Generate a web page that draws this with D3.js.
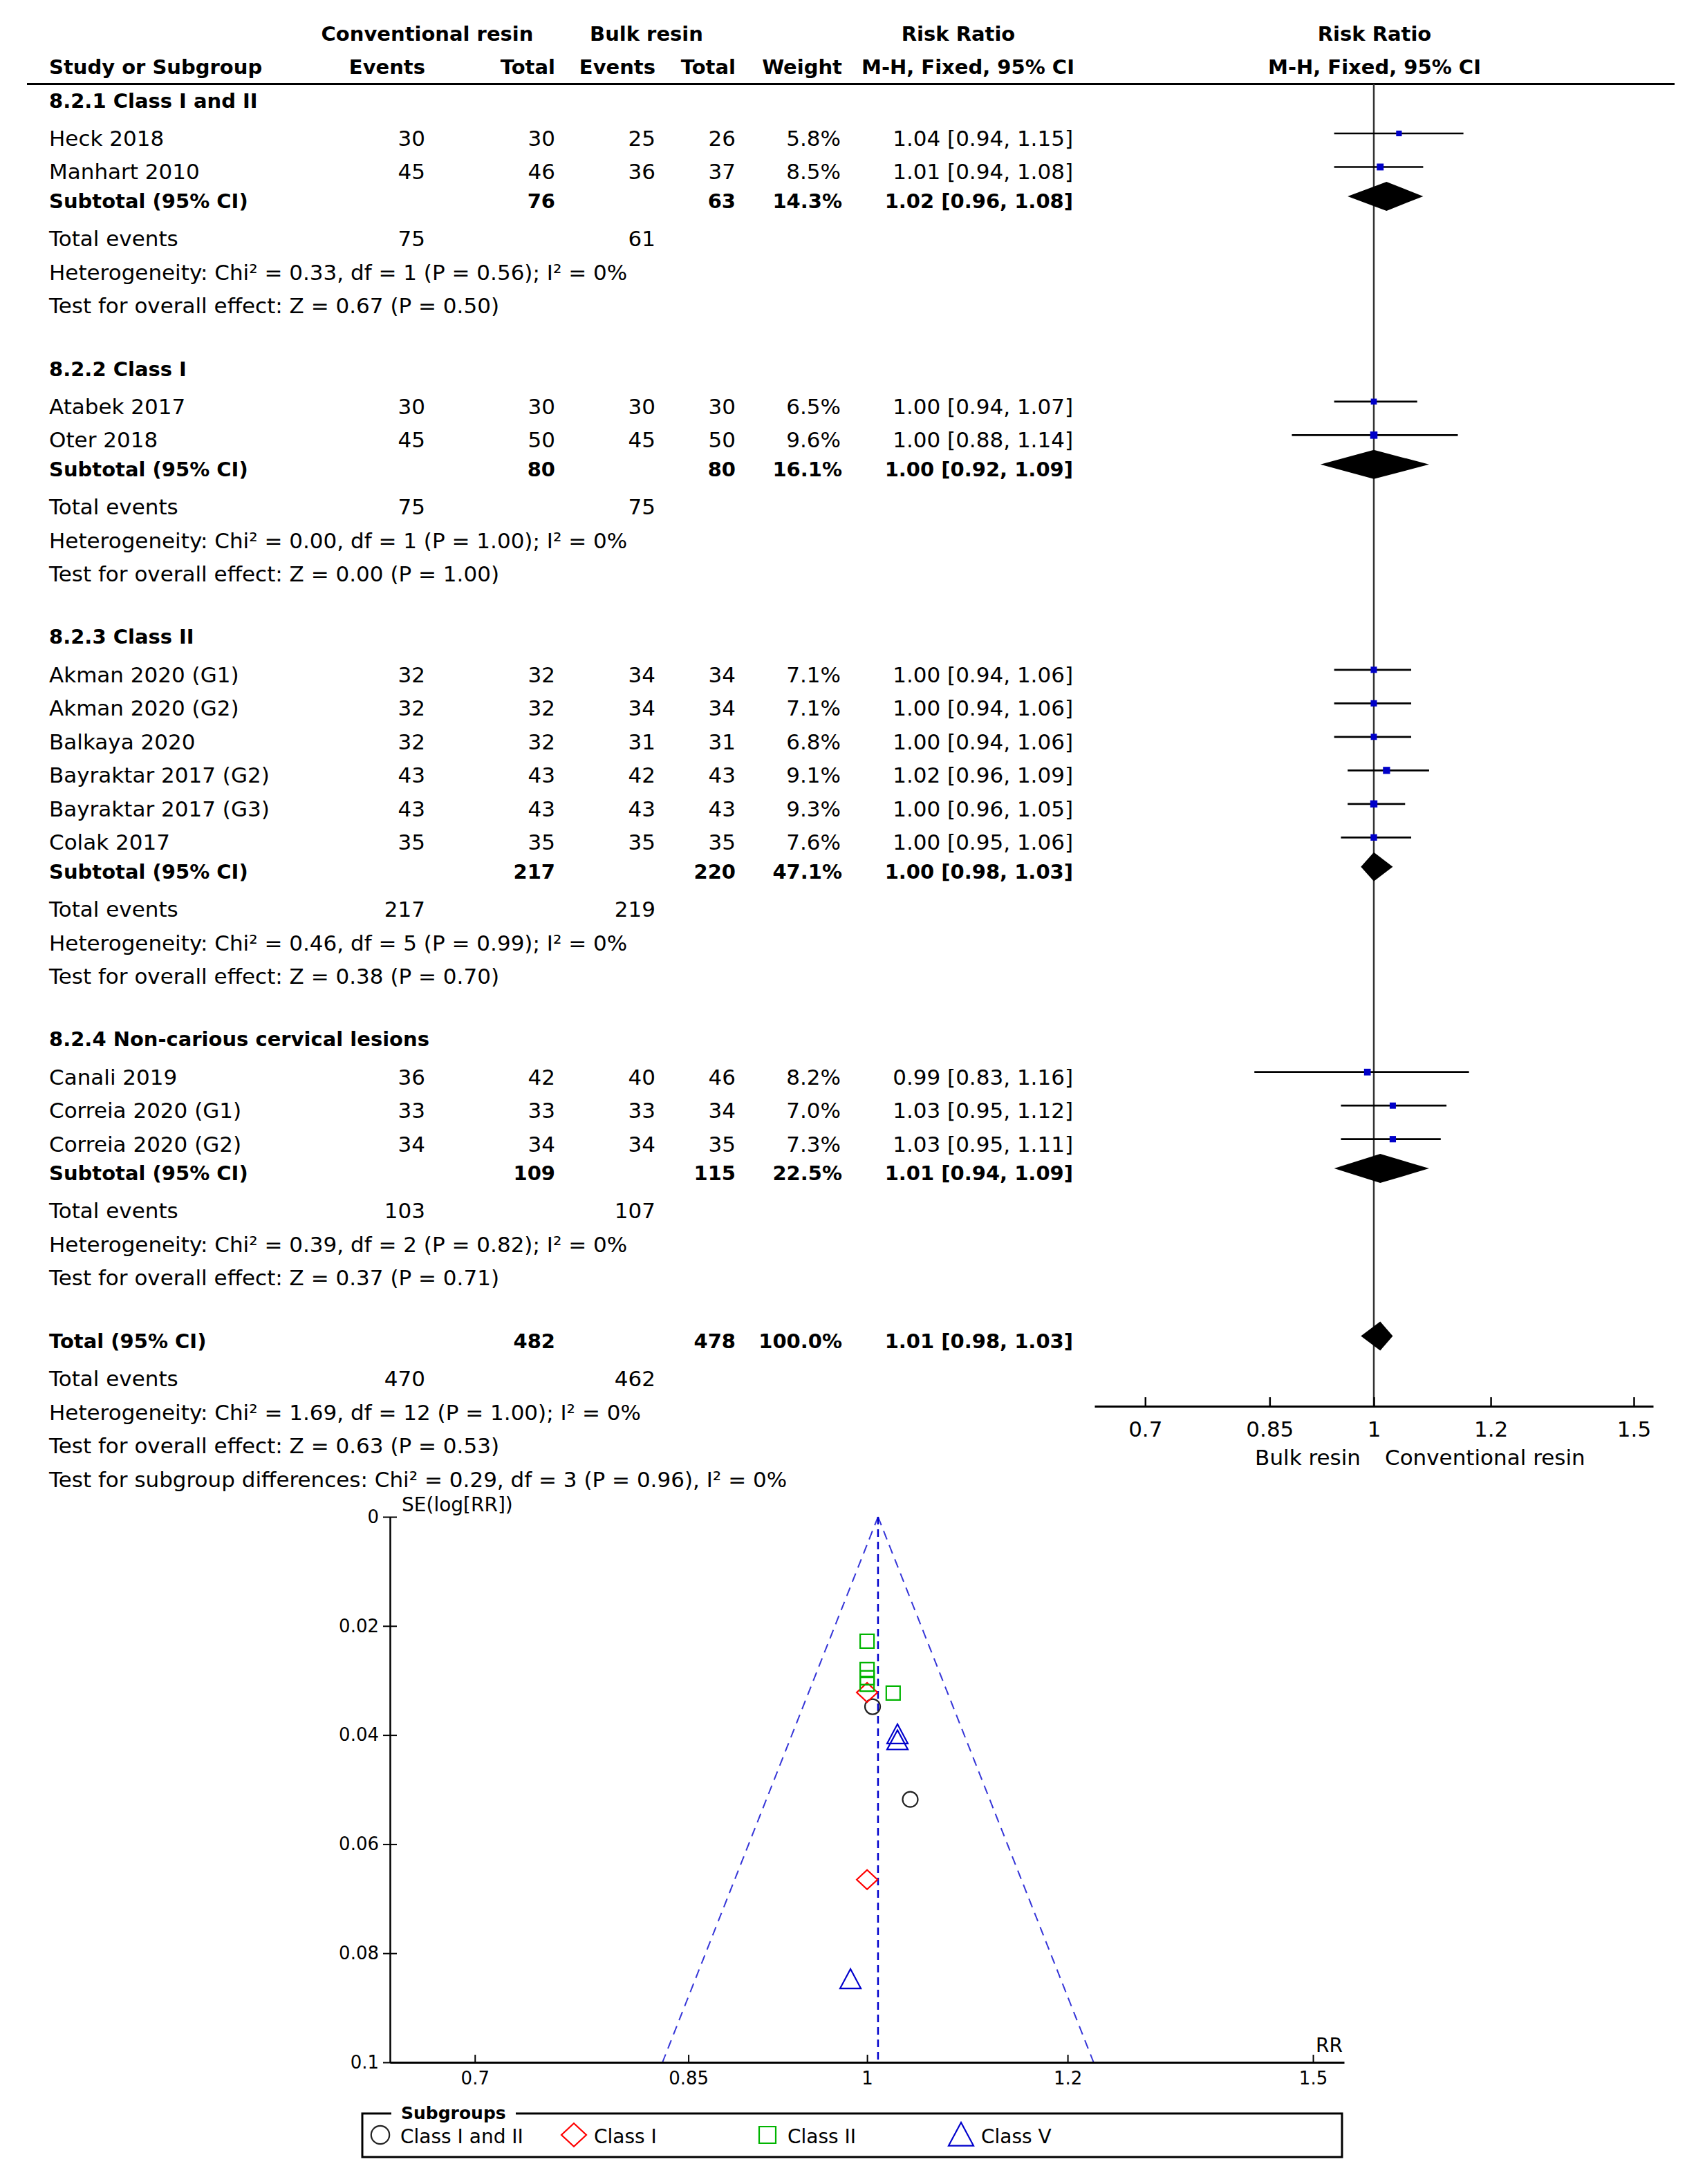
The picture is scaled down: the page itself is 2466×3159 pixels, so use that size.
<!DOCTYPE html>
<html>
<head>
<meta charset="utf-8">
<script src="https://cdn.jsdelivr.net/npm/d3@7"></script>
<style>
  body { margin: 0; background: #fff; }
  text { font-family: "DejaVu Sans", sans-serif; fill: #000; }
</style>
</head>
<body>
<div id="chart"></div>
<script>
// ---- forest plot data ----
const groupNames = ["8.2.1 Class I and II", "8.2.2 Class I", "8.2.3 Class II", "8.2.4 Non-carious cervical lesions"];
const studyNames = ["Heck 2018", "Manhart 2010", "Atabek 2017", "Oter 2018", "Akman 2020 (G1)", "Akman 2020 (G2)",
  "Balkaya 2020", "Bayraktar 2017 (G2)", "Bayraktar 2017 (G3)", "Colak 2017", "Canali 2019", "Correia 2020 (G1)", "Correia 2020 (G2)"];
const studyGroup = [0, 0, 1, 1, 2, 2, 2, 2, 2, 2, 3, 3, 3];
const convEvents = [30, 45, 30, 45, 32, 32, 32, 43, 43, 35, 36, 33, 34];
const convTotal  = [30, 46, 30, 50, 32, 32, 32, 43, 43, 35, 42, 33, 34];
const bulkEvents = [25, 36, 30, 45, 34, 34, 31, 42, 43, 35, 40, 33, 34];
const bulkTotal  = [26, 37, 30, 50, 34, 34, 31, 43, 43, 35, 46, 34, 35];
const studyWeight = [5.8, 8.5, 6.5, 9.6, 7.1, 7.1, 6.8, 9.1, 9.3, 7.6, 8.2, 7.0, 7.3];
const studyRR   = [1.04, 1.01, 1.00, 1.00, 1.00, 1.00, 1.00, 1.02, 1.00, 1.00, 0.99, 1.03, 1.03];
const studyLow  = [0.94, 0.94, 0.94, 0.88, 0.94, 0.94, 0.94, 0.96, 0.96, 0.95, 0.83, 0.95, 0.95];
const studyHigh = [1.15, 1.08, 1.07, 1.14, 1.06, 1.06, 1.06, 1.09, 1.05, 1.06, 1.16, 1.12, 1.11];

const subConvTotal = [76, 80, 217, 109];
const subBulkTotal = [63, 80, 220, 115];
const subWeight = [14.3, 16.1, 47.1, 22.5];
const subRR   = [1.02, 1.00, 1.00, 1.01];
const subLow  = [0.96, 0.92, 0.98, 0.94];
const subHigh = [1.08, 1.09, 1.03, 1.09];
const subConvEvents = [75, 75, 217, 103];
const subBulkEvents = [61, 75, 219, 107];
const subHet = [
  "Heterogeneity: Chi\u00b2 = 0.33, df = 1 (P = 0.56); I\u00b2 = 0%",
  "Heterogeneity: Chi\u00b2 = 0.00, df = 1 (P = 1.00); I\u00b2 = 0%",
  "Heterogeneity: Chi\u00b2 = 0.46, df = 5 (P = 0.99); I\u00b2 = 0%",
  "Heterogeneity: Chi\u00b2 = 0.39, df = 2 (P = 0.82); I\u00b2 = 0%"
];
const subZ = [
  "Test for overall effect: Z = 0.67 (P = 0.50)",
  "Test for overall effect: Z = 0.00 (P = 1.00)",
  "Test for overall effect: Z = 0.38 (P = 0.70)",
  "Test for overall effect: Z = 0.37 (P = 0.71)"
];

const totalConv = 482, totalBulk = 478, totalWeight = 100.0;
const totalRR = [1.01, 0.98, 1.03];
const totalConvEvents = 470, totalBulkEvents = 462;
const totalHet = "Heterogeneity: Chi\u00b2 = 1.69, df = 12 (P = 1.00); I\u00b2 = 0%";
const totalZ = "Test for overall effect: Z = 0.63 (P = 0.53)";
const subgroupDiff = "Test for subgroup differences: Chi\u00b2 = 0.29, df = 3 (P = 0.96), I\u00b2 = 0%";

const forestTicks = [0.7, 0.85, 1, 1.2, 1.5];
const forestTickLabels = ["0.7", "0.85", "1", "1.2", "1.5"];

// ---- funnel plot data ----
const funnelRR = [1.04, 1.005, 1.00, 1.00, 1.00, 1.00, 1.00, 1.024, 1.00, 1.00, 0.985, 1.028, 1.028];
const funnelSE = [0.0518, 0.0348, 0.0322, 0.0665, 0.0295, 0.0295, 0.0307, 0.0323, 0.0228, 0.0280, 0.0848, 0.0410, 0.0399];
const funnelGroup = studyGroup;
const funnelPooled = 1.01;
const legendLabels = ["Class I and II", "Class I", "Class II", "Class V"];
const seTicks = [0, 0.02, 0.04, 0.06, 0.08, 0.1];
const seTickLabels = ["0", "0.02", "0.04", "0.06", "0.08", "0.1"];

// ---- drawing ----
const W = 2466, H = 3159;
const svg = d3.select("#chart").append("svg").attr("width", W).attr("height", H);
svg.append("rect").attr("width", W).attr("height", H).attr("fill", "#fff");

const f2 = d3.format(".2f");
const pct = d => d3.format(".1f")(d) + "%";
const ci = (r, l, h) => `${f2(r)} [${f2(l)}, ${f2(h)}]`;

const col = { name: 71, convEv: 615, convTot: 803, bulkEv: 948, bulkTot: 1064, weight: 1216, ci: 1552 };

function txt(x, y, s, opt = {}) {
  return svg.append("text")
    .attr("x", x).attr("y", y).attr("dy", "0.35em")
    .attr("text-anchor", opt.anchor || "start")
    .style("font-size", (opt.size || (opt.bold ? 29 : 31)) + "px")
    .style("font-weight", opt.bold ? "bold" : "normal")
    .text(s);
}

// headers
txt(618, 48.5, "Conventional resin", { bold: true, anchor: "middle" });
txt(935, 48.5, "Bulk resin", { bold: true, anchor: "middle" });
txt(1386, 48.5, "Risk Ratio", { bold: true, anchor: "middle" });
txt(1988, 48.5, "Risk Ratio", { bold: true, anchor: "middle" });
txt(col.name, 97, "Study or Subgroup", { bold: true });
txt(col.convEv, 97, "Events", { bold: true, anchor: "end" });
txt(col.convTot, 97, "Total", { bold: true, anchor: "end" });
txt(col.bulkEv, 97, "Events", { bold: true, anchor: "end" });
txt(col.bulkTot, 97, "Total", { bold: true, anchor: "end" });
txt(col.weight + 2, 97, "Weight", { bold: true, anchor: "end" });
txt(1400, 97, "M-H, Fixed, 95% CI", { bold: true, anchor: "middle" });
txt(1988, 97, "M-H, Fixed, 95% CI", { bold: true, anchor: "middle" });

svg.append("line").attr("x1", 39).attr("x2", 2422).attr("y1", 121.5).attr("y2", 121.5)
  .attr("stroke", "#000").attr("stroke-width", 3);

const xF = d3.scaleLog().domain([0.6468, 1.546]).range([1583, 2391]);
const axisY = 2034;
const markShift = -7;

svg.append("line").attr("x1", xF(1)).attr("x2", xF(1)).attr("y1", 121.5).attr("y2", axisY)
  .attr("stroke", "#333").attr("stroke-width", 2.5);

function diamond(y, r, l, h) {
  const yy = y + markShift, hh = 21;
  svg.append("path")
    .attr("d", `M${xF(l)},${yy} L${xF(r)},${yy - hh} L${xF(h)},${yy} L${xF(r)},${yy + hh} Z`)
    .attr("fill", "#000");
}

let y = 145.5;
groupNames.forEach((g, gi) => {
  txt(col.name, y, g, { bold: true });
  const idx = studyGroup.map((d, i) => d === gi ? i : -1).filter(i => i >= 0);
  let sy = y + 54.5;
  idx.forEach((i, k) => {
    if (k > 0) sy += 48.5;
    txt(col.name, sy, studyNames[i]);
    txt(col.convEv, sy, convEvents[i], { anchor: "end" });
    txt(col.convTot, sy, convTotal[i], { anchor: "end" });
    txt(col.bulkEv, sy, bulkEvents[i], { anchor: "end" });
    txt(col.bulkTot, sy, bulkTotal[i], { anchor: "end" });
    txt(col.weight, sy, pct(studyWeight[i]), { anchor: "end" });
    txt(col.ci, sy, ci(studyRR[i], studyLow[i], studyHigh[i]), { anchor: "end" });
    const my = sy + markShift;
    svg.append("line").attr("x1", xF(studyLow[i])).attr("x2", xF(studyHigh[i]))
      .attr("y1", my).attr("y2", my).attr("stroke", "#000").attr("stroke-width", 2.7);
    const side = 3.4 * Math.sqrt(studyWeight[i]);
    svg.append("rect").attr("x", xF(studyRR[i]) - side / 2).attr("y", my - side / 2)
      .attr("width", side).attr("height", side).attr("fill", "#0000c8");
  });
  const suby = sy + 42.4;
  txt(col.name, suby, "Subtotal (95% CI)", { bold: true });
  txt(col.convTot, suby, subConvTotal[gi], { bold: true, anchor: "end" });
  txt(col.bulkTot, suby, subBulkTotal[gi], { bold: true, anchor: "end" });
  txt(col.weight + 2, suby, pct(subWeight[gi]), { bold: true, anchor: "end" });
  txt(col.ci, suby, ci(subRR[gi], subLow[gi], subHigh[gi]), { bold: true, anchor: "end" });
  diamond(suby, subRR[gi], subLow[gi], subHigh[gi]);
  const te = suby + 54.5;
  txt(col.name, te, "Total events");
  txt(col.convEv, te, subConvEvents[gi], { anchor: "end" });
  txt(col.bulkEv, te, subBulkEvents[gi], { anchor: "end" });
  txt(col.name, te + 48.5, subHet[gi]);
  txt(col.name, te + 97, subZ[gi]);
  y = te + 97 + 91;
});

// overall total
txt(col.name, y, "Total (95% CI)", { bold: true });
txt(col.convTot, y, totalConv, { bold: true, anchor: "end" });
txt(col.bulkTot, y, totalBulk, { bold: true, anchor: "end" });
txt(col.weight + 2, y, pct(totalWeight), { bold: true, anchor: "end" });
txt(col.ci, y, ci(totalRR[0], totalRR[1], totalRR[2]), { bold: true, anchor: "end" });
diamond(y, totalRR[0], totalRR[1], totalRR[2]);
const tte = y + 55;
txt(col.name, tte, "Total events");
txt(col.convEv, tte, totalConvEvents, { anchor: "end" });
txt(col.bulkEv, tte, totalBulkEvents, { anchor: "end" });
txt(col.name, tte + 48.5, totalHet);
txt(col.name, tte + 97, totalZ);
txt(col.name, tte + 145.5, subgroupDiff);

// forest axis
const gF = svg.append("g").attr("transform", `translate(0,${axisY})`)
  .call(d3.axisBottom(xF).tickValues(forestTicks).tickFormat((d, i) => forestTickLabels[i])
    .tickSizeInner(-13).tickSizeOuter(0).tickPadding(22));
gF.select(".domain").attr("stroke", "#000").attr("stroke-width", 3);
gF.selectAll(".tick line").attr("stroke", "#000").attr("stroke-width", 2.5);
gF.selectAll(".tick text").style("font-size", "31px");
txt(1968, 2108, "Bulk resin", { anchor: "end" });
txt(2003, 2108, "Conventional resin");

// ---- funnel plot ----
const xP = d3.scaleLog().domain([0.648, 1.543]).range([564, 1944]);
const yP = d3.scaleLinear().domain([0, 0.1]).range([2194, 2983]);

const seMax = 0.1;
const lowEnd = funnelPooled * Math.exp(-1.96 * seMax), highEnd = funnelPooled * Math.exp(1.96 * seMax);
[[lowEnd], [highEnd]].forEach(([e]) => {
  svg.append("line").attr("x1", xP(funnelPooled)).attr("y1", yP(0)).attr("x2", xP(e)).attr("y2", yP(seMax))
    .attr("stroke", "#3535d8").attr("stroke-width", 2).attr("stroke-dasharray", "13,9");
});
svg.append("line").attr("x1", xP(funnelPooled)).attr("x2", xP(funnelPooled)).attr("y1", yP(0)).attr("y2", yP(seMax))
  .attr("stroke", "#0000cc").attr("stroke-width", 2.5).attr("stroke-dasharray", "11,7");

const gY = svg.append("g").attr("transform", "translate(564,0)")
  .call(d3.axisLeft(yP).tickValues(seTicks).tickFormat((d, i) => seTickLabels[i])
    .tickSizeInner(10).tickSizeOuter(0).tickPadding(6));
gY.select(".domain").attr("stroke", "#000").attr("stroke-width", 2.5);
gY.selectAll(".tick line").attr("x1", 10).attr("stroke", "#000").attr("stroke-width", 2);
gY.selectAll(".tick text").style("font-size", "26px");

const gX = svg.append("g").attr("transform", `translate(0,${yP(seMax)})`)
  .call(d3.axisBottom(xP).tickValues(forestTicks).tickFormat((d, i) => forestTickLabels[i])
    .tickSizeInner(-11).tickSizeOuter(0).tickPadding(14));
gX.select(".domain").attr("stroke", "#000").attr("stroke-width", 3);
gX.selectAll(".tick line").attr("stroke", "#000").attr("stroke-width", 2);
gX.selectAll(".tick text").style("font-size", "26px");

svg.append("text").attr("x", 581).attr("y", 2186).style("font-size", "28px").text("SE(log[RR])");
svg.append("text").attr("x", 1942).attr("y", 2968).attr("text-anchor", "end").style("font-size", "28px").text("RR");

const symColor = ["#222", "#ff0000", "#00b400", "#0000cc"];
function symbol(g, cx, cy, s) {
  const sel = svg.append("path").attr("fill", "none").attr("stroke", symColor[g]).attr("stroke-width", 2.2);
  let d;
  if (g === 0) {
    const r = 11 * s;
    d = `M${cx - r},${cy} a${r},${r} 0 1,0 ${2 * r},0 a${r},${r} 0 1,0 ${-2 * r},0`;
  } else if (g === 1) {
    const w = 15 * s, h = 14 * s;
    d = `M${cx - w},${cy} L${cx},${cy - h} L${cx + w},${cy} L${cx},${cy + h} Z`;
  } else if (g === 2) {
    const a = 10 * s;
    d = `M${cx - a},${cy - a} H${cx + a} V${cy + a} H${cx - a} Z`;
  } else {
    const w = 15 * s;
    d = `M${cx},${cy - 15 * s} L${cx + w},${cy + 13 * s} L${cx - w},${cy + 13 * s} Z`;
  }
  sel.attr("d", d);
}
funnelRR.forEach((r, i) => symbol(funnelGroup[i], xP(r), yP(funnelSE[i]), 1));

// legend
svg.append("rect").attr("x", 524).attr("y", 3057).attr("width", 1417).attr("height", 63)
  .attr("fill", "none").attr("stroke", "#000").attr("stroke-width", 3);
svg.append("rect").attr("x", 566).attr("y", 3050).attr("width", 180).attr("height", 16).attr("fill", "#fff");
svg.append("text").attr("x", 580).attr("y", 3065).style("font-size", "25px").style("font-weight", "bold").text("Subgroups");
legendLabels.forEach((l, i) => {
  const lx = 550 + i * 280;
  symbol(i, lx, 3088, 1.2);
  svg.append("text").attr("x", lx + 29).attr("y", 3100).style("font-size", "28px").text(l);
});
</script>
</body>
</html>
